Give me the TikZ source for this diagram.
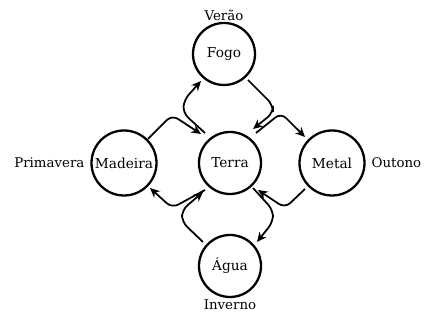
\documentclass[tikz,border=0pt]{standalone}
\usepackage{fontspec}
\setmainfont{DejaVu Serif}
\usepackage{tikz}
\usetikzlibrary{positioning, calc}
\usetikzlibrary{arrows.meta}
\tikzstyle{element} = [circle, minimum size=1.24cm, inner sep=0pt, outer sep=0pt, text centered, draw=black, line width=1.3pt, font=\fontsize{7.8}{9}\selectfont]
\tikzstyle{wide} = [element, minimum size=1.3cm]
\tikzstyle{season} = [inner sep=1pt, font=\fontsize{7.6}{9}\selectfont]
\tikzstyle{arrow} = [line width=1pt, rounded corners=4pt, -{Stealth[length=5.5pt, width=5pt]}]

\begin{document}
\begin{tikzpicture}
            \useasboundingbox (0,0) rectangle (8.56,-6.42);
            \node (terra) [element] at (4.60,-3.26) {Terra};
            \node (fogo) [element, above=.94cm of terra, xshift=-.12cm] {Fogo};
            \node (madeira) [wide, left=.85cm of terra] {Madeira};
            \node (metal) [wide, right=.77cm of terra] {Metal};
            \node (agua) [element, below=.82cm of terra] {Água};

            \node (verao) [season, above=0pt of fogo] {Verão};
            \node (primavera) [season, left=.1cm of madeira] {Primavera};
            \node (outono) [season, right=.1cm of metal] {Outono};
            \node (inverno) [season, below=.02cm of agua] {Inverno};

            \draw [arrow] ($(madeira)+(.48,.48)$) -- ($(terra)+(-1.16,.96)$) -- ($(terra)+(-.58,.58)$);
            \draw [arrow] ($(terra)+(-.5,.6)$) -- ($(terra)+(-.94,1.0)$) -- ($(terra)+(-.92,1.26)$) -- ($(fogo)+(-.46,-.54)$);
            \draw [arrow] ($(fogo)+(.48,-.52)$) -- ($(terra)+(.86,1.16)$) -- ($(terra)+(.86,1.0)$) -- ($(terra)+(.46,.68)$);
            \draw [arrow] ($(terra)+(.52,.6)$) -- ($(terra)+(1.02,1.0)$) -- ($(metal)+(-.54,.52)$);
            \draw [arrow] ($(metal)+(-.54,-.52)$) -- ($(terra)+(1.1,-.9)$) -- ($(terra)+(.56,-.54)$);
            \draw [arrow] ($(terra)+(.46,-.5)$) -- ($(terra)+(.86,-.94)$) -- ($(terra)+(.86,-1.18)$) -- ($(agua)+(.54,.48)$);
            \draw [arrow] ($(agua)+(-.54,.48)$) -- ($(terra)+(-.96,-1.18)$) -- ($(terra)+(-.96,-.94)$) -- ($(terra)+(-.54,-.58)$);
            \draw [arrow] ($(terra)+(-.5,-.54)$) -- ($(terra)+(-1.16,-.9)$) -- ($(madeira)+(.52,-.5)$);
        \end{tikzpicture}
\end{document}
